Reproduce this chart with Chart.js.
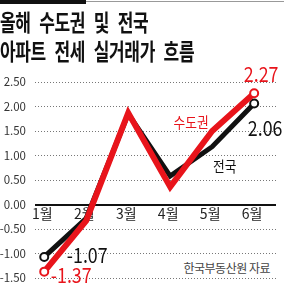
<!DOCTYPE html>
<html>
<head>
<meta charset="utf-8">
<script src="https://cdn.jsdelivr.net/npm/chart.js@4"></script>
<style>
  html, body { margin: 0; padding: 0; background: #fff; }
  #wrap { position: relative; width: 284px; height: 290px; overflow: hidden; }
  #bar { position: absolute; left: 0; top: 0; width: 86px; height: 4px; background: #111; }
  #rule { position: absolute; left: 86px; top: 1px; width: 198px; height: 1px; background: #999; }
  .title {
    position: absolute; left: 0; font-family: 'Noto Sans CJK KR', sans-serif;
    font-size: 23px; font-weight: 700; color: #111; white-space: nowrap;
    transform: scaleX(0.74); transform-origin: 0 0; line-height: 1;
    letter-spacing: -0.5px; word-spacing: 7px;
  }
  #source {
    position: absolute; right: 12px; top: 259px; font-family: 'Noto Sans CJK KR', sans-serif;
    font-size: 12px; color: #444; background: #fff; padding: 0 2px; letter-spacing: -0.5px;
  }
  canvas { position: absolute; left: 0; top: 0; }
</style>
</head>
<body>
<div id="wrap">
  <canvas id="chart" width="284" height="290"></canvas>
  <div id="bar"></div>
  <div id="rule"></div>
  <div class="title" style="top:10px">올해 수도권 및 전국</div>
  <div class="title" style="top:39px">아파트 전세 실거래가 흐름</div>
  <div id="source">한국부동산원 자료</div>
</div>
<script>
const months = ['1월', '2월', '3월', '4월', '5월', '6월'];
const capitalArea = [-1.37, -0.33, 1.87, 0.36, 1.5, 2.27];
const nationwide = [-1.07, -0.28, 1.85, 0.58, 1.18, 2.06];
const yTickValues = [2.5, 2, 1.5, 1, 0.5, 0, -0.5, -1, -1.5];

const RED = '#e8141b';
const BLACK = '#111111';
const FONT = "'Noto Sans CJK KR', sans-serif";

const toPoints = arr => arr.map((v, i) => ({ x: i + 1, y: v }));
const endsOnly = arr => arr.map((_, i) => (i === 0 || i === arr.length - 1) ? 4 : 0);

// solid zero line with month labels hanging under it
const zeroAxis = {
  id: 'zeroAxis',
  beforeDatasetsDraw(chart) {
    const { ctx, chartArea, scales: { x, y } } = chart;
    const py = Math.round(y.getPixelForValue(0));
    ctx.save();
    ctx.fillStyle = '#111';
    ctx.fillRect(chartArea.left, py - 1, chartArea.right - chartArea.left, 2);
    ctx.font = `14px ${FONT}`;
    ctx.fillStyle = '#222';
    ctx.textAlign = 'center';
    ctx.textBaseline = 'top';
    months.forEach((m, i) => {
      ctx.fillText(m, x.getPixelForValue(i + 1) - 2, py + 2);
    });
    ctx.restore();
  }
};

// labels next to the lines
const labelPlugin = {
  id: 'labels',
  afterDatasetsDraw(chart) {
    const { ctx, scales: { x, y } } = chart;
    const last = months.length;
    const put = (text, px, py, color, size) => {
      ctx.save();
      ctx.font = `${size}px ${FONT}`;
      ctx.fillStyle = color;
      ctx.textAlign = 'center';
      ctx.textBaseline = 'middle';
      ctx.translate(px, py);
      ctx.scale(0.85, 1);
      ctx.fillText(text, 0, 0);
      ctx.restore();
    };
    put(capitalArea[last - 1].toFixed(2), x.getPixelForValue(last) + 7, y.getPixelForValue(capitalArea[last - 1]) - 19, RED, 21);
    put(nationwide[last - 1].toFixed(2), x.getPixelForValue(last) + 11, y.getPixelForValue(nationwide[last - 1]) + 24, BLACK, 21);
    put(capitalArea[0].toFixed(2), x.getPixelForValue(1) + 27, y.getPixelForValue(capitalArea[0]) + 3, RED, 21);
    put(nationwide[0].toFixed(2), x.getPixelForValue(1) + 43, y.getPixelForValue(nationwide[0]) - 2, BLACK, 21);
    put('수도권', x.getPixelForValue(4.5), y.getPixelForValue(1.68), RED, 15);
    put('전국', x.getPixelForValue(5.3), y.getPixelForValue(0.78), BLACK, 15);
  }
};

new Chart(document.getElementById('chart'), {
  type: 'line',
  data: {
    datasets: [
      {
        label: '수도권',
        data: toPoints(capitalArea),
        borderColor: RED,
        borderWidth: 6,
        borderJoinStyle: 'miter',
        pointRadius: endsOnly(capitalArea),
        pointBackgroundColor: '#fff',
        pointBorderColor: RED,
        pointBorderWidth: 2,
        tension: 0
      },
      {
        label: '전국',
        data: toPoints(nationwide),
        borderColor: BLACK,
        borderWidth: 5,
        borderJoinStyle: 'miter',
        pointRadius: endsOnly(nationwide),
        pointBackgroundColor: '#fff',
        pointBorderColor: BLACK,
        pointBorderWidth: 2,
        tension: 0
      }
    ]
  },
  options: {
    responsive: false,
    animation: false,
    devicePixelRatio: 1,
    layout: { padding: { top: 82, right: 8, bottom: 12, left: 0 } },
    plugins: { legend: { display: false }, tooltip: { enabled: false } },
    scales: {
      x: {
        type: 'linear',
        min: 0.78,
        max: 6.52,
        afterBuildTicks: s => { s.ticks = months.map((_, i) => ({ value: i + 1 })); },
        afterFit: s => { s.height = 0; },
        grid: { display: false },
        border: { display: false },
        ticks: { display: false }
      },
      y: {
        min: -1.5,
        max: 2.5,
        afterBuildTicks: s => { s.ticks = yTickValues.map(v => ({ value: v })); },
        afterFit: s => { s.width = 35; s.paddingTop = 0; s.paddingBottom = 0; },
        grid: { color: '#777', lineWidth: 1, drawTicks: false },
        border: { display: false, dash: [1, 2] },
        ticks: {
          callback: v => v.toFixed(2),
          font: { family: FONT, size: 11.5 },
          color: '#333',
          padding: 9
        }
      }
    }
  },
  plugins: [zeroAxis, labelPlugin]
});
</script>
</body>
</html>
